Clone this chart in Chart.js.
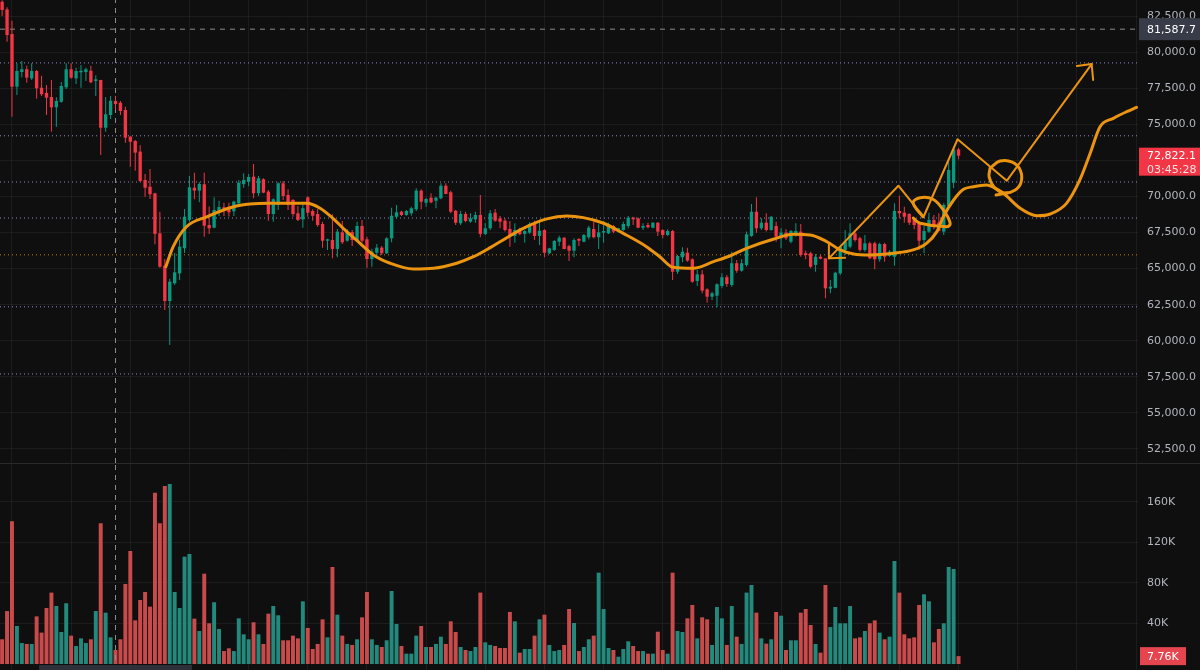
<!DOCTYPE html>
<html>
<head>
<meta charset="utf-8">
<script src="https://cdn.jsdelivr.net/npm/chart.js@4.4.1/dist/chart.umd.min.js"></script>
<style>
html, body { margin: 0; padding: 0; background: #0f0f0f; }
#wrap { position: relative; width: 1200px; height: 670px; overflow: hidden; background: #0f0f0f; }
#price-pane { position: absolute; left: 0; top: 0; width: 1200px; height: 463px; }
#sep { position: absolute; left: 0; top: 463px; width: 1200px; height: 1px; background: #2a2a2a; }
#vol-pane { position: absolute; left: 0; top: 464px; width: 1200px; height: 206px; }
</style>
</head>
<body>
<div id="wrap">
  <div id="price-pane"><canvas id="price-chart"></canvas></div>
  <div id="sep"></div>
  <div id="vol-pane"><canvas id="vol-chart"></canvas></div>
</div>
<script>
// candles, one per slot (index 0 = oldest)
const opens = [83490,82960,81250,77600,78620,78810,78180,78690,77530,77170,76890,76170,76560,77560,78810,78180,78600,78620,78710,78000,
  78070,74760,75640,76610,76490,75990,74140,73840,73100,71140,70670,70210,67440,65200,62750,63980,64670,66410,68370,70600,
  70400,70840,68020,67830,68990,69250,69250,68970,69520,70850,71020,71370,70220,71190,70330,68780,69410,70910,70100,69750,
  68830,68410,69940,68990,68780,68090,66930,66980,66360,67510,66930,67530,66980,67950,67030,65660,66100,66450,66060,67100,
  68590,68940,68710,68830,69110,70400,69560,69910,69700,69870,70740,70290,69010,68140,68780,68250,68410,68710,67400,67790,
  68870,68480,68320,67740,67260,67740,67400,67490,68090,67260,67670,66060,66290,66860,67140,66560,66240,67050,66860,67170,
  67740,67170,67490,67440,67950,67560,67670,67950,68530,68480,67830,68020,67830,68180,67670,67330,67600,64780,65780,66100,
  65640,64140,64600,63560,63050,63120,63790,64400,63860,65370,64850,65250,67260,68940,67790,68180,67670,67950,67100,67490,
  66860,67440,67560,66060,66060,65250,65820,65710,63610,63670,64670,66290,66520,67440,67100,66290,66750,66750,65640,66700,
  65870,65820,68990,68870,68780,68370,68140,66980,67560,68370,68180,67560,69340,70950,73260];
const highs = [83600,83100,82170,79220,79380,79060,79220,78760,78360,77720,78070,76870,77930,79220,79220,78920,79110,78920,79060,78390,
  78070,76890,76960,76960,76610,76220,74190,73910,73550,71550,71900,70260,68940,65660,64300,66080,67000,69130,71410,71640,
  71000,71640,69300,69940,69700,69560,69560,69700,71140,71600,71550,72250,71410,71260,70440,69870,70980,71070,70490,69820,
  69340,69470,70000,69110,69110,68250,67070,68760,67740,68300,67740,67670,68250,68370,67210,66380,66700,66560,67170,69220,
  69410,69010,69060,69290,70560,70490,69910,70220,69980,70910,70910,70400,69060,69010,68940,68830,68940,70100,68140,69060,
  69130,68640,68480,68300,68140,67830,67670,68210,68320,68320,67720,66450,66980,67280,67170,66650,67100,67120,67400,67970,
  68250,68070,68300,68180,68020,67830,68250,68640,68590,68530,68140,68180,68210,68210,67720,67720,67670,65940,66470,66450,
  65710,64900,64900,63630,63400,63980,64670,64550,66170,65590,65640,67560,69470,69940,68480,68830,68640,68250,67790,67720,
  67670,68140,68090,66240,66170,66010,65940,65710,64210,64780,66580,67670,68140,67560,67210,67330,66860,66860,66790,66790,
  66290,69520,70050,69290,68830,68480,68250,67950,68870,68710,68830,69520,72400,73440,73380];
const lows = [82500,80720,75520,77030,78250,77880,78070,76770,76960,75640,74480,74830,76490,77440,78160,77790,77530,78000,77840,76960,
  72870,74480,75360,76000,75640,73720,72060,71780,71000,69980,69820,66680,65050,62130,59700,63860,64200,66080,68250,69800,
  69600,67210,67400,67790,68650,68650,68600,68650,69380,70600,70700,69870,70030,70220,68320,68250,69060,69750,69060,68590,
  68300,67830,68590,68320,67900,66450,66290,65710,65780,66700,66860,66560,66860,66790,65060,65130,65820,65940,66010,66820,
  68480,68640,68660,68660,68990,69110,69290,69520,69180,69800,70150,68830,68020,68020,68210,68180,68180,67170,67330,67670,
  68250,67790,67560,66520,66790,67310,66790,67400,66980,66630,65780,66010,66240,66560,66340,65530,65780,66560,66820,67030,
  67100,66360,66790,67400,67440,67490,67620,67790,68020,67790,67670,67790,67790,67260,67100,67260,64210,64620,65430,65480,
  64020,63790,63290,62640,62820,62320,63630,63740,63740,64710,64780,65130,67210,67490,67670,67560,67620,66860,66400,66980,
  66750,67210,65820,65640,65020,64780,65640,62940,63290,63630,64550,65940,66400,66860,66170,66170,65640,64950,65480,65480,
  65820,65200,68480,68180,68020,67720,66290,66060,67490,67720,67560,67330,69180,70560,72570];
const closes = [82920,81180,77600,78690,78810,78230,78690,77490,77080,76840,76170,76610,77650,78810,78230,78690,78710,78810,77910,78110,
  74760,75690,76630,76400,75920,74070,73790,73030,71070,70600,70150,67400,65130,62750,64090,64740,66520,68590,70630,70400,
  70860,67970,67790,69060,69270,68990,68900,69640,70950,71140,71350,70220,71260,70260,68780,69800,70910,70030,69410,68780,
  68370,69180,68870,68660,68020,66930,67030,66360,67560,66820,67560,66980,67950,66930,65660,66170,66450,66060,67100,68660,
  68900,68710,68990,69180,70400,69630,69820,69590,69910,70740,70170,68940,68180,68780,68300,68480,68710,67400,67790,68830,
  68320,68250,67670,67260,67670,67380,67600,68090,67260,67620,66100,66400,66910,67140,66360,66240,66980,66930,67330,67830,
  67170,67510,67600,68070,67560,67790,68090,68530,68410,67830,67950,67860,68180,67560,67330,67600,64780,65870,66170,65550,
  64090,64600,63470,63050,63290,63910,64400,63930,65370,64850,65370,67370,68940,67790,68180,67670,68590,67210,67490,67100,
  67600,67600,65940,65940,65130,65820,65680,63630,63740,64710,66520,66860,67440,66980,66290,66750,65710,65640,66700,65820,
  66170,68990,68830,68590,68180,68020,66930,67600,68370,68020,67600,69410,71830,73260,72822.1];
// volume in thousands
const volumes = [24.4,52.3,141,37.5,20.7,19.8,19.8,47,31,55.3,70.5,57.3,31.6,60,28,17.8,25.3,20.7,24.4,52.3,
  139,50.7,26.3,13.8,24.4,79,111.6,43.1,63.2,71.1,56.6,169.2,139,175.8,177.8,71.1,55.3,106,108.6,44.8,
  32.6,89.2,40.2,61,34.6,12.8,15.5,12.8,45.1,29.3,24.4,41.2,29.3,19.8,49.7,57.3,48.1,23.4,23.4,28,
  25.3,61.9,35.6,14.8,19.8,44.1,26.3,95.8,48.7,28,19.8,18.8,24.4,46.1,71.1,24.4,18.8,16.8,23.4,72.1,
  39.5,17.8,10.2,10.2,28,37.5,16.8,16.8,19.8,27,19.8,42.1,31.6,16.8,13.8,12.8,16.8,70.5,21.4,18.8,
  17.8,15.8,15.8,51.4,42.1,11.2,14.8,14.8,28,44.1,48.7,18.8,12.8,13.8,18.8,54.3,40.5,12.8,16.8,24.4,
  28,90.2,54.3,15.8,13.8,7.2,14.8,22.4,17.8,12.8,12.8,10.2,10.2,31.9,13.8,10.2,90.2,32.6,31.6,45.1,
  58.3,25.3,46.1,44.1,18.8,56.3,45.1,18.8,57.3,27,19.8,70.5,78,50.7,25.3,20.1,24.4,51.4,47.7,13.8,
  23.4,23.4,50.7,54.3,38.5,19.8,11.2,78,36.5,56.3,40.2,40.2,57.3,25.3,26.3,32.6,40.2,43.1,31,24.4,
  27,101.7,70.5,29.3,25.3,26.3,58.3,68.8,61.9,21.4,34.6,40.2,95.8,93.8,7.76];

const priceTicks = [52500,55000,57500,60000,62500,65000,67500,70000,72500,75000,77500,80000,82500];
const volTicks = [40,80,120,160];
const countdown = '03:45:28';

// drawn horizontal levels and crosshair
const levelPrices = [79250,74200,71000,68500,62350,57700];
const orangeLevel = 65950;
const crossPrice = 81587.7;
const crossIdx = 23;

// hand-drawn annotations (slot index, price)
const waveIdx = [33.2,34.7,37.4,41.5,46.8,50.3,54.3,61.8,64.5,67.1,69.9,72.6,75.3,78.7,83.4,87.5,92.2,95.6,99,101,
  105.7,110.5,114.5,117.9,122,126,130.7,133.4,136.1,140.2,144.3,147.6,151,156.4,160.5,163.9,167.3,170,172.7,176,
  180.8,184.8,187.5,189.6,190.9,193,195,197,199.7,201.1,203.1,206.5,209.9,212.6,215.9,218.6,220.7,222.7,225.4,228.1,230.1];
const wavePrice = [65130,66520,67900,68590,69270,69470,69520,69520,69180,68480,67560,66750,65940,65370,64970,65020,65370,65820,66450,66860,
  67790,68440,68640,68530,68140,67440,66520,65820,65090,65020,65480,65870,66400,67030,67370,67330,66860,66290,66010,65940,
  66060,66290,66750,67560,68590,69750,70490,70670,70790,70630,70220,69180,68660,68780,69520,71140,72990,74830,75410,75870,76170];
const zigIdx = [167.7,181.8,186.9,193.8,203.8,221];
const zigPrice = [65710,70740,68590,73960,71090,79170];
const tipIdx = [218,221,221.3];
const tipPrice = [79040,79170,78070];
const tailIdx = [167.7,167.7,171];
const tailPrice = [66700,65710,65750];
const loopAIdx = [186.8,184.8,186.2,188.8,190.9,192.3,191.6,186.2,184.8];
const loopAPrice = [68590,69540,69910,69800,69060,68140,67900,68140,68500];
const loopBIdx = [200.4,202.4,204.9,206.5,206.7,205.5,203.2,201.2,200.2,200.4];
const loopBPrice = [71970,72450,72380,71830,71000,70440,70240,70650,71350,71970];
const tickIdx = [201.6,203.8];
const tickPrice = [70100,70240];

const X_MIN = -0.43, X_MAX = 230.4;
const PMIN = 51528, PMAX = 83609;
const VMIN = -5.93, VMAX = 197.5;
const GRID = 'rgba(242,242,242,0.06)';
const TEXT = '#b2b5be';
const UP = '#089981', DOWN = '#f23645';
const VOL_UP = '#23897c', VOL_DOWN = '#c94a4a';
const ORANGE = '#eb9410';
const AXIS_FONT = { family: 'DejaVu Sans', size: 11 };
const TAG_FONT = '11px "DejaVu Sans"';

const idx = opens.map((o, i) => i);
const candleColors = idx.map(i => closes[i] >= opens[i] ? UP : DOWN);
const volColors = idx.map(i => closes[i] >= opens[i] ? VOL_UP : VOL_DOWN);
const gridIdx = [];
for (let i = 2; i <= 230; i += 12) gridIdx.push(i);

function fmt(v) {
    return v.toLocaleString('en-US', { minimumFractionDigits: 1, maximumFractionDigits: 1 });
}

function lineSet(xs, ys, color, width, extra) {
    return Object.assign({
        type: 'line',
        data: xs.map((x, i) => ({ x: x, y: ys[i] })),
        borderColor: color,
        borderWidth: width,
        pointRadius: 0,
        fill: false,
        order: 0,
        borderCapStyle: 'round',
        borderJoinStyle: 'round'
    }, extra || {});
}

function xScale() {
    return {
        type: 'linear',
        min: X_MIN,
        max: X_MAX,
        offset: false,
        grid: { color: GRID, drawTicks: false, offset: false },
        border: { display: false },
        ticks: { display: false },
        afterBuildTicks: s => { s.ticks = gridIdx.map(v => ({ value: v })); },
        afterFit: s => { s.height = 0; }
    };
}

const priceTags = {
    id: 'priceTags',
    afterDraw(chart) {
        const ctx = chart.ctx;
        const ys = chart.scales.y;
        const x0 = chart.chartArea.right;
        const last = closes[closes.length - 1];
        ctx.save();
        ctx.textBaseline = 'middle';
        ctx.font = TAG_FONT;

        let py = ys.getPixelForValue(crossPrice);
        ctx.fillStyle = '#383c48';
        ctx.fillRect(x0 + 1, py - 11, 61, 22);
        ctx.fillStyle = '#ffffff';
        ctx.fillText(fmt(crossPrice), x0 + 9, py + 1);

        py = ys.getPixelForValue(last);
        ctx.fillStyle = DOWN;
        ctx.fillRect(x0 + 1, py - 8, 61, 28);
        ctx.fillStyle = '#ffffff';
        ctx.fillText(fmt(last), x0 + 9, py);
        ctx.fillStyle = 'rgba(255,255,255,0.85)';
        ctx.fillText(countdown, x0 + 9, py + 14);
        ctx.restore();
    }
};

const volTags = {
    id: 'volTags',
    afterDraw(chart) {
        const ctx = chart.ctx;
        const ys = chart.scales.y;
        const xs = chart.scales.x;
        const x0 = chart.chartArea.right;
        const last = volumes[volumes.length - 1];
        const base = ys.getPixelForValue(0);
        ctx.save();
        // time axis strip under the bars
        ctx.fillStyle = '#2e3039';
        ctx.fillRect(xs.getPixelForValue(7.5), base + 1, xs.getPixelForValue(38.5) - xs.getPixelForValue(7.5), chart.height - base);

        const py = ys.getPixelForValue(last);
        ctx.fillStyle = '#e5454f';
        ctx.fillRect(x0 + 2, py - 9, 46, 18);
        ctx.fillStyle = '#ffffff';
        ctx.font = TAG_FONT;
        ctx.textBaseline = 'middle';
        ctx.fillText(last.toFixed(2) + 'K', x0 + 9, py + 1);
        ctx.restore();
    }
};

const priceDatasets = levelPrices.map(lv => lineSet([X_MIN, X_MAX], [lv, lv], '#8f8bcc', 1, { borderDash: [1, 3], borderCapStyle: 'butt', order: 9 }));
priceDatasets.push(lineSet([X_MIN, X_MAX], [orangeLevel, orangeLevel], '#c27a1a', 1, { borderDash: [1, 3], borderCapStyle: 'butt', order: 9 }));
priceDatasets.push(lineSet([X_MIN, X_MAX], [crossPrice, crossPrice], '#8c8c8c', 1, { borderDash: [5, 5], borderCapStyle: 'butt', order: 8 }));
priceDatasets.push(lineSet([crossIdx, crossIdx], [PMIN, PMAX], '#8c8c8c', 1, { borderDash: [5, 5], borderCapStyle: 'butt', order: 8 }));
priceDatasets.push({
    type: 'bar',
    label: 'wick',
    data: idx.map(i => ({ x: i, y: [lows[i], highs[i]] })),
    backgroundColor: candleColors,
    grouped: false,
    barPercentage: 1,
    categoryPercentage: 0.3,
    maxBarThickness: 1,
    order: 3
});
priceDatasets.push({
    type: 'bar',
    label: 'body',
    data: idx.map(i => ({ x: i, y: [opens[i], closes[i]] })),
    backgroundColor: candleColors,
    grouped: false,
    barPercentage: 0.68,
    categoryPercentage: 1,
    minBarLength: 1,
    order: 2
});
priceDatasets.push(lineSet(waveIdx, wavePrice, ORANGE, 3, { cubicInterpolationMode: 'monotone' }));
priceDatasets.push(lineSet(zigIdx, zigPrice, ORANGE, 2));
priceDatasets.push(lineSet(tipIdx, tipPrice, ORANGE, 2));
priceDatasets.push(lineSet(tailIdx, tailPrice, ORANGE, 2));
priceDatasets.push(lineSet(loopAIdx, loopAPrice, ORANGE, 3, { tension: 0.4 }));
priceDatasets.push(lineSet(loopBIdx, loopBPrice, ORANGE, 3, { tension: 0.4 }));
priceDatasets.push(lineSet(tickIdx, tickPrice, ORANGE, 3));

const priceChart = new Chart(document.getElementById('price-chart').getContext('2d'), {
    type: 'bar',
    data: { datasets: priceDatasets },
    options: {
        responsive: true,
        maintainAspectRatio: false,
        animation: false,
        events: [],
        layout: { padding: 0 },
        plugins: { legend: { display: false }, tooltip: { enabled: false } },
        scales: {
            x: xScale(),
            y: {
                type: 'linear',
                position: 'right',
                min: PMIN,
                max: PMAX,
                grid: { color: GRID, drawTicks: false },
                border: { display: false },
                ticks: { color: TEXT, font: AXIS_FONT, padding: 9, autoSkip: false, callback: v => fmt(v) },
                afterBuildTicks: s => { s.ticks = priceTicks.map(v => ({ value: v })); },
                afterFit: s => { s.width = 62; s.paddingTop = 0; s.paddingBottom = 0; }
            }
        }
    },
    plugins: [priceTags]
});

const volChart = new Chart(document.getElementById('vol-chart').getContext('2d'), {
    type: 'bar',
    data: {
        datasets: [
            lineSet([crossIdx, crossIdx], [VMIN, VMAX], '#8c8c8c', 1, { borderDash: [5, 5], borderCapStyle: 'butt', order: 0 }),
            {
                type: 'bar',
                label: 'volume',
                data: idx.map(i => ({ x: i, y: volumes[i] })),
                backgroundColor: volColors,
                grouped: false,
                barPercentage: 0.8,
                categoryPercentage: 1,
                order: 1
            }
        ]
    },
    options: {
        responsive: true,
        maintainAspectRatio: false,
        animation: false,
        events: [],
        layout: { padding: 0 },
        plugins: { legend: { display: false }, tooltip: { enabled: false } },
        scales: {
            x: xScale(),
            y: {
                type: 'linear',
                position: 'right',
                min: VMIN,
                max: VMAX,
                grid: { color: GRID, drawTicks: false },
                border: { display: false },
                ticks: { color: TEXT, font: AXIS_FONT, padding: 9, autoSkip: false, callback: v => v + 'K' },
                afterBuildTicks: s => { s.ticks = volTicks.map(v => ({ value: v })); },
                afterFit: s => { s.width = 62; s.paddingTop = 0; s.paddingBottom = 0; }
            }
        }
    },
    plugins: [volTags]
});
</script>
</body>
</html>
